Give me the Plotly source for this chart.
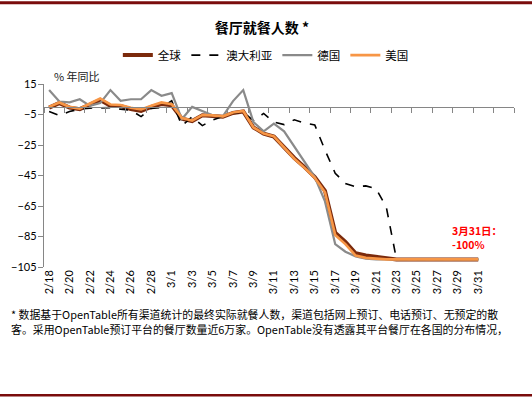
import plotly.graph_objects as go

dates = [f"2/{d}" for d in range(18, 30)] + [f"3/{d}" for d in range(1, 32)]

global_vals = [-0.5, 2.5, -0.5, -1.5, 1.5, 4.5, 0.8, 0.5, -1.5, -2.7, 0.0, 1.8, 1.0,
               -7.8, -9.3, -5.5, -6.0, -6.5, -4.0, -3.0, -13.5, -17.5, -19.5, -26.5,
               -33.5, -39.5, -46.0, -55.0, -82.5, -88.5, -96.0, -97.5, -98.5, -99.0,
               -100, -100, -100, -100, -100, -100, -100, -100, -100]
australia_vals = [-3.0, -5.7, -3.0, -1.5, -0.8, -0.5, -0.5, -1.5, -2.2, -6.4, -1.0, -0.5, 4.0,
                  -12.3, -6.5, -12.3, -8.6, -6.3, -4.0, -3.5, -9.0, -4.3, -10.0, -11.6,
                  -8.5, -10.7, -11.8, -28.3, -43.5, -50.3, -52.3, -51.8, -53.6, -65.7,
                  -100, -100, -100, -100, -100, -100, -100, -100, -100]
germany_vals = [11.0, 3.5, 3.0, 5.0, 0.7, 2.5, 11.0, 4.0, 5.0, 5.0, 11.0, 7.3, 9.0,
                -8.0, 0.0, -3.0, -5.5, -6.2, 3.8, 11.0, -10.0, -16.0, -11.0, -16.0,
                -26.0, -36.0, -46.0, -62.0, -90.0, -95.0, -98.0, -99.5, -100,
                -100, -100, -100, -100, -100, -100, -100, -100, -100, -100]
us_vals = [0.0, 2.9, 0.0, -1.1, 2.2, 5.5, 1.6, 1.2, -0.6, -1.7, 0.7, 2.9, 1.8,
           -7.3, -9.0, -5.3, -5.6, -6.2, -3.7, -2.7, -13.5, -17.5, -19.3, -26.5,
           -34.0, -40.0, -46.5, -56.0, -84.0, -90.0, -97.5, -99.0, -99.5,
           -100, -100, -100, -100, -100, -100, -100, -100, -100, -100]

series_names = ["全球", "澳大利亚", "德国", "美国"]
y_ticks = [15, -5, -25, -45, -65, -85, -105]
x_labels = dates[::2]

title_text = "餐厅就餐人数 *"
unit_text = "% 年同比"
note_line_1 = "3月31日："
note_line_2 = "-100%"
footnote_1 = "* 数据基于OpenTable所有渠道统计的最终实际就餐人数，渠道包括网上预订、电话预订、无预定的散"
footnote_2 = "客。采用OpenTable预订平台的餐厅数量近6万家。OpenTable没有透露其平台餐厅在各国的分布情况，"

CJK = "Noto Sans CJK SC"
LAT = "Lato, " + CJK
AXC = "#868686"
RED_BORDER = "#7a0c0c"

x_idx = list(range(len(dates)))

fig = go.Figure()
styles = [
    dict(color="#7b2a0c", width=4),
    dict(color="#000000", width=1.6, dash="dash"),
    dict(color="#8a8a8a", width=2.2),
    dict(color="#f79646", width=2.6),
]
for name, vals, st in zip(series_names, [global_vals, australia_vals, germany_vals, us_vals], styles):
    fig.add_trace(go.Scatter(x=x_idx, y=vals, mode="lines", name=name, line=st,
                             hoverinfo="skip"))

# invisible trace to keep the tick-mark axis alive
fig.add_trace(go.Scatter(x=[x_idx[0]], y=[0], xaxis="x2", mode="lines",
                         showlegend=False, hoverinfo="skip", line=dict(width=0)))

n_cat = len(dates) + 3
fig.update_layout(
    width=532, height=399,
    margin=dict(l=44, r=18, t=84, b=132),
    paper_bgcolor="white", plot_bgcolor="white",
    font=dict(family=LAT, color="#000000", size=11),
    title=dict(text=f"<b>{title_text}</b>", x=0.4925, xanchor="center",
               y=1 - 28 / 399, yanchor="middle",
               font=dict(family=CJK, size=14, color="#000000")),
    showlegend=True,
    legend=dict(orientation="h", x=0.472, xanchor="center", y=1.158, yanchor="middle",
                font=dict(family=CJK, size=11.5, color="#000000"),
                itemwidth=30, bgcolor="rgba(0,0,0,0)", traceorder="normal"),
    xaxis=dict(range=[-0.5, n_cat - 0.5], tickmode="array",
               tickvals=x_idx[::2], ticktext=x_labels, tickangle=-90,
               showline=False, showgrid=False, zeroline=False, ticks="",
               tickfont=dict(family=LAT, size=11, color="#000000")),
    xaxis2=dict(range=[-0.5, n_cat - 0.5], overlaying="x", anchor="free",
                position=105 / 120, side="bottom",
                tickmode="array", tickvals=[-0.5 + 2 * k for k in range(n_cat // 2 + 1)],
                showticklabels=False, ticks="outside", ticklen=5, tickcolor=AXC,
                showline=True, linecolor=AXC, linewidth=1.3,
                showgrid=False, zeroline=False),
    yaxis=dict(range=[-105, 15], tickmode="array", tickvals=y_ticks,
               showline=True, linecolor=AXC, linewidth=1.3,
               ticks="outside", ticklen=5, tickcolor=AXC, ticklabelstandoff=-1,
               showgrid=False, zeroline=False,
               tickfont=dict(family=LAT, size=11, color="#000000")),
)

fig.add_annotation(text=unit_text, xref="paper", yref="paper",
                   x=(52 - 44) / 470, y=(267 - 77) / 182.5, xanchor="left", yanchor="middle",
                   showarrow=False, font=dict(family=CJK, size=11, color="#222222"))
fig.add_annotation(text=f"<b>{note_line_1}</b>", xref="x", yref="y",
                   x=39.2, y=-81.0, xanchor="left", yanchor="middle", align="left",
                   showarrow=False, font=dict(family=CJK, size=10.5, color="#ff0000"))
fig.add_annotation(text=f"<b>{note_line_2}</b>", xref="x", yref="y",
                   x=39.2, y=-90.3, xanchor="left", yanchor="middle", align="left",
                   showarrow=False, font=dict(family=CJK, size=10.5, color="#ff0000"))
fig.add_annotation(text=footnote_1, xref="paper", yref="paper",
                   x=(9 - 44) / 470, y=(267 - 314) / 182.5, xanchor="left", yanchor="middle",
                   showarrow=False, font=dict(family=CJK, size=10.9, color="#000000"))
fig.add_annotation(text=footnote_2, xref="paper", yref="paper",
                   x=(9 - 44) / 470, y=(267 - 329) / 182.5, xanchor="left", yanchor="middle",
                   showarrow=False, font=dict(family=CJK, size=10.9, color="#000000"))

# top and bottom decorative border rules
for ypx, w in [(3.5, 3), (395, 2.5)]:
    fig.add_shape(type="line", xref="paper", yref="paper",
                  x0=-44 / 470, x1=(532 - 44) / 470,
                  y0=(267 - ypx) / 182.5, y1=(267 - ypx) / 182.5,
                  line=dict(color=RED_BORDER, width=w))

fig.write_html("out.html", config={"displayModeBar": False},
               post_script="document.body.style.margin='0';document.body.style.overflow='hidden';")
